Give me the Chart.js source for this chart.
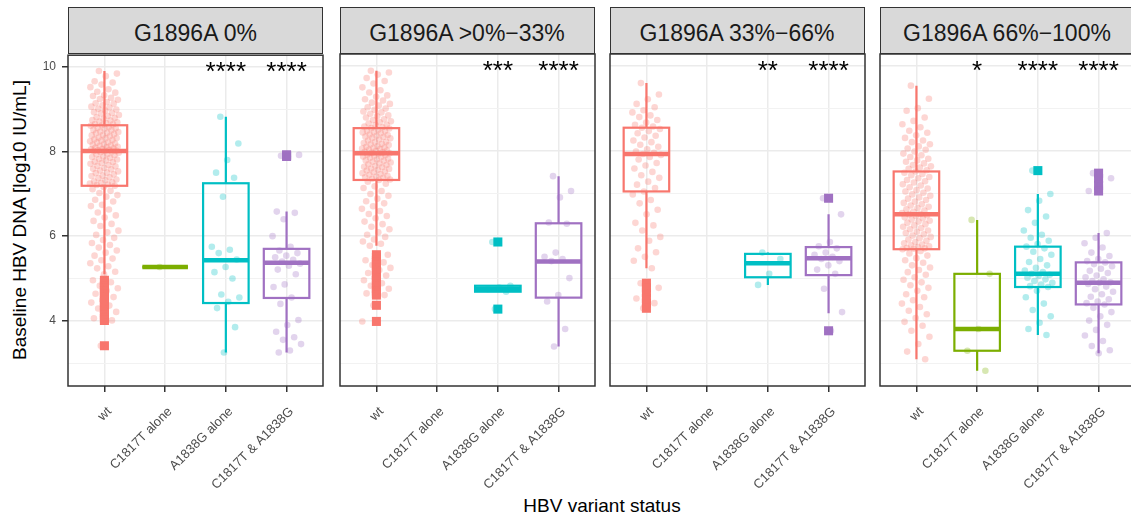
<!DOCTYPE html>
<html>
<head>
<meta charset="utf-8">
<title>Baseline HBV DNA by variant status</title>
<script src="https://cdn.jsdelivr.net/npm/chart.js@4.4.1/dist/chart.umd.min.js"></script>
<style>
  body { margin: 0; width: 1131px; height: 518px; overflow: hidden; background: #fff; position: relative;
         font-family: "Liberation Sans", Arial, Helvetica, sans-serif; }
  .strip { position: absolute; top: 7px; width: 255px; height: 47px; box-sizing: border-box;
           border: 1.5px solid #333; background: #d9d9d9; color: #1a1a1a; font-size: 23px;
           text-align: center; line-height: 50px; white-space: nowrap; }
  .panel { position: absolute; top: 42px; }
  #xtitle { position: absolute; left: 452px; width: 300px; top: 496px; text-align: center;
            font-size: 19px; line-height: 20px; color: #000; }
  #ytitle { position: absolute; left: -130px; top: 210px; width: 300px; height: 20px; text-align: center;
            font-size: 19px; line-height: 20px; color: #000; transform: rotate(-90deg); }
</style>
</head>
<body>
<div id="ytitle">Baseline HBV DNA [log10 IU/mL]</div>
<div id="xtitle">HBV variant status</div>
<script>
// 横軸カテゴリ・パネル名
var categories = ["wt", "C1817T alone", "A1838G alone", "C1817T & A1838G"];
var panels = ["G1896A 0%", "G1896A >0%\u221233%", "G1896A 33%\u221266%", "G1896A 66%\u2212100%"];
var stars = [
  ["", "", "****", "****"],
  ["", "", "***", "****"],
  ["", "", "**", "****"],
  ["", "*", "****", "****"]
];
var yTicks = [4, 6, 8, 10];
var yMinor = [3, 5, 7, 9];

// 箱ひげ図の統計量 (パネル × カテゴリ)
var whiskerLo = [[5.10, 5.27, 3.25, 3.25], [5.76, null, 4.68, 3.39], [5.23, null, 4.84, 4.17], [3.09, 2.82, 3.66, 3.23]];
var q1        = [[7.19, 5.27, 4.42, 4.54], [7.31, null, 4.68, 4.54], [7.04, null, 5.02, 5.07], [5.68, 3.29, 4.79, 4.38]];
var median    = [[8.01, 5.27, 5.43, 5.37], [7.94, null, 4.75, 5.39], [7.92, null, 5.35, 5.47], [6.50, 3.80, 5.10, 4.89]];
var q3        = [[8.62, 5.27, 7.25, 5.70], [8.53, null, 4.82, 6.29], [8.54, null, 5.57, 5.73], [7.51, 5.10, 5.74, 5.37]];
var whiskerHi = [[9.90, 5.27, 8.82, 6.58], [9.88, null, 4.82, 7.40], [9.59, null, 5.60, 6.50], [9.53, 6.37, 6.98, 6.06]];

// 個別の測定値
var wt0 = [9.9, 9.84, 9.78, 9.66, 9.63, 9.58, 9.52, 9.47, 9.41, 9.39, 9.33, 9.31, 9.27, 9.24, 9.22, 9.17, 9.14, 9.13, 9.09, 9.06,
  9.04, 9.01, 8.99, 8.97, 8.93, 8.91, 8.9, 8.86, 8.84, 8.81, 8.79, 8.77, 8.74, 8.73, 8.71, 8.69, 8.67, 8.65, 8.64, 8.62,
  8.61, 8.58, 8.56, 8.55, 8.54, 8.51, 8.5, 8.47, 8.46, 8.44, 8.43, 8.41, 8.39, 8.38, 8.36, 8.33, 8.32, 8.31, 8.29, 8.27,
  8.26, 8.24, 8.22, 8.21, 8.19, 8.17, 8.16, 8.14, 8.13, 8.11, 8.1, 8.09, 8.07, 8.06, 8.05, 8.04, 8.03, 8.02, 8.02, 8.01,
  8.0, 7.98, 7.97, 7.94, 7.93, 7.91, 7.88, 7.87, 7.85, 7.82, 7.81, 7.79, 7.76, 7.75, 7.73, 7.71, 7.68, 7.66, 7.65, 7.61,
  7.59, 7.58, 7.55, 7.53, 7.5, 7.49, 7.46, 7.43, 7.42, 7.39, 7.37, 7.34, 7.32, 7.29, 7.27, 7.26, 7.24, 7.22, 7.21, 7.19,
  7.16, 7.11, 7.07, 7.02, 6.97, 6.93, 6.86, 6.82, 6.74, 6.71, 6.63, 6.56, 6.49, 6.44, 6.36, 6.29, 6.24, 6.13, 6.09, 6.03,
  5.96, 5.91, 5.84, 5.79, 5.73, 5.66, 5.61, 5.54, 5.47, 5.43, 5.36, 5.29, 5.24, 5.16, 5.1,
  4.96, 4.91, 4.83, 4.77, 4.71, 4.64, 4.56, 4.49, 4.43, 4.36, 4.29, 4.21, 4.13, 4.06, 4.01, 3.41];
var c0 = [5.27];
var a0 = [8.82, 8.19, 7.8, 7.5, 7.38, 6.93, 5.75, 5.68, 5.6, 5.45, 5.27, 5.15, 5.0, 4.62, 4.55, 4.45, 4.3, 3.85, 3.25];
var ca0 = [7.9, 7.92, 7.88, 6.58, 6.55, 6.4, 6.0, 5.75, 5.66, 5.6, 5.54, 5.5, 5.44, 5.4, 5.35, 5.3, 5.21, 5.1, 4.86, 4.8,
  4.55, 4.4, 4.02, 3.9, 3.74, 3.61, 3.55, 3.45, 3.3, 3.25];

var wt1 = [9.88, 9.84, 9.79, 9.71, 9.64, 9.58, 9.49, 9.42, 9.37, 9.3, 9.27, 9.21, 9.18, 9.13, 9.1, 9.06, 9.02, 8.99, 8.96, 8.92,
  8.9, 8.87, 8.83, 8.81, 8.78, 8.74, 8.72, 8.69, 8.67, 8.64, 8.61, 8.6, 8.57, 8.55, 8.53,
  8.52, 8.49, 8.47, 8.46, 8.44, 8.43, 8.41, 8.38, 8.37, 8.35, 8.33, 8.32, 8.3, 8.29, 8.26, 8.24, 8.21, 8.2, 8.18, 8.16,
  8.15, 8.13, 8.11, 8.09, 8.07, 8.06, 8.05, 8.04, 8.02, 8.0, 7.99, 7.97, 7.96, 7.95, 7.94,
  7.93, 7.91, 7.9, 7.88, 7.86, 7.85, 7.83, 7.81, 7.79, 7.77, 7.76, 7.74, 7.72, 7.7, 7.68, 7.66, 7.64, 7.62, 7.61, 7.58,
  7.57, 7.55, 7.53, 7.51, 7.49, 7.47, 7.45, 7.43, 7.41, 7.39, 7.37, 7.36, 7.34, 7.32, 7.31,
  7.27, 7.22, 7.16, 7.12, 7.05, 6.98, 6.94, 6.87, 6.81, 6.76, 6.69, 6.63, 6.58, 6.51, 6.46, 6.41, 6.33, 6.27, 6.21, 6.15,
  6.08, 6.02, 5.97, 5.91, 5.86, 5.81, 5.76,
  5.55, 5.49, 5.42, 5.37, 5.31, 5.24, 5.19, 5.12, 5.06, 5.0, 4.95, 4.88, 4.82, 4.75, 4.7, 4.64, 4.6, 4.36, 3.98];
var c1 = [];
var a1 = [5.85, 4.82, 4.78, 4.74, 4.68, 4.27];
var ca1 = [7.4, 7.05, 6.9, 6.31, 6.28, 5.6, 5.5, 5.45, 5.4, 5.0, 4.6, 4.45, 3.8, 3.39];

var wt2 = [9.59, 9.32, 9.21, 9.1, 9.02, 8.95, 8.9, 8.83, 8.79, 8.72, 8.66, 8.61, 8.57, 8.54,
  8.51, 8.46, 8.41, 8.35, 8.31, 8.24, 8.2, 8.14, 8.09, 8.03, 7.98, 7.95, 7.92,
  7.9, 7.85, 7.79, 7.71, 7.65, 7.58, 7.5, 7.42, 7.36, 7.27, 7.2, 7.12, 7.04,
  6.97, 6.84, 6.76, 6.61, 6.5, 6.3, 6.24, 6.12, 5.97, 5.88, 5.7, 5.61, 5.5, 5.41, 5.23,
  4.88, 4.77, 4.66, 4.52, 4.41, 4.29];
var c2 = [];
var a2 = [5.6, 5.45, 5.1, 4.84];
var ca2 = [6.88, 6.5, 5.85, 5.75, 5.7, 5.6, 5.55, 5.5, 5.45, 5.4, 5.3, 5.2, 5.1, 4.75, 4.2, 3.76];

var wt3 = [9.53, 9.22, 9.0, 8.94, 8.78, 8.7, 8.62, 8.55, 8.47, 8.42, 8.36, 8.3, 8.24, 8.2, 8.15, 8.1, 8.05, 8.02, 7.98, 7.93,
  7.89, 7.85, 7.81, 7.77, 7.74, 7.7, 7.66, 7.63, 7.6, 7.57, 7.54, 7.51,
  7.48, 7.45, 7.42, 7.38, 7.35, 7.31, 7.28, 7.25, 7.21, 7.18, 7.14, 7.11, 7.07, 7.04, 7.01, 6.97, 6.94, 6.9, 6.87, 6.84,
  6.8, 6.77, 6.74, 6.71, 6.68, 6.65, 6.62, 6.59, 6.56, 6.53, 6.51, 6.5,
  6.48, 6.46, 6.43, 6.41, 6.38, 6.35, 6.33, 6.3, 6.27, 6.24, 6.21, 6.18, 6.15, 6.12, 6.09, 6.06, 6.03, 6.0, 5.97, 5.94,
  5.91, 5.88, 5.85, 5.82, 5.79, 5.77, 5.75, 5.73, 5.71, 5.7, 5.69, 5.68,
  5.64, 5.58, 5.53, 5.47, 5.42, 5.36, 5.3, 5.25, 5.19, 5.14, 5.08, 5.02, 4.96, 4.9, 4.83, 4.77, 4.7, 4.62, 4.55, 4.48,
  4.4, 4.32, 4.23, 4.15, 4.06, 3.97, 3.88, 3.76, 3.62, 3.45, 3.27, 3.09];
var c3 = [6.37, 5.1, 3.8, 3.29, 2.82];
var a3 = [7.53, 6.98, 6.82, 6.6, 6.45, 6.3, 6.12, 6.02, 5.95, 5.88, 5.8, 5.74, 5.7, 5.62, 5.55, 5.45, 5.38, 5.3, 5.24, 5.18,
  5.14, 5.1, 5.08, 5.05, 5.01, 4.97, 4.93, 4.89, 4.85, 4.81, 4.79, 4.7, 4.55, 4.4, 4.25, 4.1, 3.95, 3.8, 3.66];
var ca3 = [7.47, 7.35, 7.18, 7.05, 6.06, 5.95, 5.82, 5.72, 5.6, 5.52, 5.45, 5.4, 5.37, 5.33, 5.28, 5.22, 5.17, 5.12, 5.06, 5.02,
  4.97, 4.93, 4.9, 4.89, 4.86, 4.8, 4.74, 4.68, 4.62, 4.56, 4.5, 4.45, 4.41, 4.38, 4.3, 4.2, 4.1, 4.0, 3.9, 3.78,
  3.65, 3.52, 3.4, 3.3, 3.23];

var values = [[wt0, c0, a0, ca0], [wt1, c1, a1, ca1], [wt2, c2, a2, ca2], [wt3, c3, a3, ca3]];

var colors = ["#F8766D", "#7CAE00", "#00BFC4", "#A071C2"];
var panelLeft = [68, 339.5, 609.5, 879.5];

function rgba(hex, a) {
  var n = parseInt(hex.slice(1), 16);
  return "rgba(" + (n >> 16) + "," + ((n >> 8) & 255) + "," + (n & 255) + "," + a + ")";
}

// ジッター (決まった順序でばらす)
function jitter(i) {
  var f = (i * 0.618034 + 0.31) % 1;
  return (f - 0.5) * 2 * 0.24;
}

Chart.defaults.font.family = '"Liberation Sans", Arial, Helvetica, sans-serif';

function boxPlugin(p) {
  return {
    id: "boxes" + p,
    beforeDatasetsDraw: function (chart) {
      var xs = chart.scales.x, ys = chart.scales.y, ctx = chart.ctx;
      var half = xs.getPixelForValue(0.375) - xs.getPixelForValue(0);
      ctx.save();
      for (var g = 0; g < 4; g++) {
        if (median[p][g] == null) continue;
        var cx = xs.getPixelForValue(g);
        var top = ys.getPixelForValue(q3[p][g]), bot = ys.getPixelForValue(q1[p][g]);
        ctx.strokeStyle = colors[g];
        ctx.lineWidth = 2.2;
        ctx.beginPath();
        ctx.moveTo(cx, ys.getPixelForValue(whiskerHi[p][g]));
        ctx.lineTo(cx, top);
        ctx.moveTo(cx, bot);
        ctx.lineTo(cx, ys.getPixelForValue(whiskerLo[p][g]));
        ctx.stroke();
        ctx.strokeRect(cx - half, top, half * 2, bot - top);
        ctx.lineWidth = 4.5;
        var m = ys.getPixelForValue(median[p][g]);
        ctx.beginPath();
        ctx.moveTo(cx - half, m);
        ctx.lineTo(cx + half, m);
        ctx.stroke();
      }
      ctx.restore();
    },
    afterDraw: function (chart) {
      var xs = chart.scales.x, ys = chart.scales.y, ctx = chart.ctx, a = chart.chartArea;
      ctx.save();
      // 有意差の記号
      ctx.fillStyle = "#000";
      ctx.font = '26px "Liberation Sans", Arial, sans-serif';
      ctx.textAlign = "center";
      ctx.textBaseline = "alphabetic";
      for (var g = 0; g < 4; g++) {
        if (stars[p][g]) ctx.fillText(stars[p][g], xs.getPixelForValue(g), ys.getPixelForValue(10) + 13);
      }
      // パネル枠
      ctx.strokeStyle = "#333";
      ctx.lineWidth = 1.5;
      ctx.strokeRect(a.left, a.top, a.right - a.left, a.bottom - a.top);
      ctx.restore();
    }
  };
}

panels.forEach(function (name, p) {
  var strip = document.createElement("div");
  strip.className = "strip";
  strip.style.left = panelLeft[p] + "px";
  strip.textContent = name;
  document.body.appendChild(strip);

  var yWidth = p === 0 ? 68 : 0;
  var padLeft = p === 0 ? 0 : 2;
  var div = document.createElement("div");
  div.className = "panel";
  div.style.left = (p === 0 ? 0 : panelLeft[p] - padLeft) + "px";
  var canvas = document.createElement("canvas");
  canvas.width = padLeft + yWidth + 255 + 4;
  canvas.height = 476;
  div.appendChild(canvas);
  document.body.appendChild(div);

  var pts = [], ptCol = [], outs = [], outCol = [];
  values[p].forEach(function (vals, g) {
    vals.forEach(function (v, i) {
      pts.push({ x: g + jitter(i), y: v });
      ptCol.push(rgba(colors[g], 0.3));
      if (median[p][g] != null && (v < whiskerLo[p][g] - 1e-9 || v > whiskerHi[p][g] + 1e-9)) {
        outs.push({ x: g, y: v });
        outCol.push(colors[g]);
      }
    });
  });

  new Chart(canvas, {
    type: "scatter",
    data: {
      datasets: [
        { data: pts, backgroundColor: ptCol, borderWidth: 0, pointRadius: 3.3, pointHoverRadius: 3.3 },
        { data: outs, backgroundColor: outCol, borderWidth: 0, pointStyle: "rect", pointRadius: 6.4, pointHoverRadius: 6.4 }
      ]
    },
    options: {
      responsive: false,
      animation: false,
      devicePixelRatio: 1,
      events: [],
      layout: { autoPadding: false, padding: { top: 12, right: 4, left: padLeft, bottom: 0 } },
      plugins: { legend: { display: false }, tooltip: { enabled: false } },
      scales: {
        x: {
          type: "linear", min: -0.6, max: 3.6,
          afterBuildTicks: function (s) { s.ticks = [0, 1, 2, 3].map(function (v) { return { value: v }; }); },
          afterFit: function (s) { s.height = 132; },
          border: { display: false },
          grid: { color: "#ebebeb", lineWidth: 1.5, tickColor: "#333", tickLength: 6, tickWidth: 1.5 },
          ticks: {
            autoSkip: false, minRotation: 45, maxRotation: 45, padding: 12, labelOffset: 5,
            color: "#4d4d4d", font: { size: 13 },
            callback: function (v) { return categories[v]; }
          }
        },
        y: {
          type: "linear", min: 2.46, max: 10.275,
          afterBuildTicks: function (s) {
            s.ticks = yMinor.concat(yTicks).sort(function (a, b) { return a - b; })
              .map(function (v) { return { value: v }; });
          },
          afterFit: function (s) { s.width = yWidth; },
          border: { display: false },
          grid: {
            color: function (c) { return yTicks.indexOf(c.tick.value) >= 0 ? "#ebebeb" : "#f2f2f2"; },
            lineWidth: function (c) { return yTicks.indexOf(c.tick.value) >= 0 ? 1.5 : 1; },
            tickColor: function (c) { return yTicks.indexOf(c.tick.value) >= 0 ? "#333" : "rgba(0,0,0,0)"; },
            drawTicks: p === 0, tickLength: 6, tickWidth: 1.5
          },
          ticks: {
            display: p === 0, padding: 6, color: "#4d4d4d", font: { size: 12 },
            callback: function (v) { return yTicks.indexOf(v) >= 0 ? String(v) : ""; }
          }
        }
      }
    },
    plugins: [boxPlugin(p)]
  });
});
</script>
</body>
</html>
